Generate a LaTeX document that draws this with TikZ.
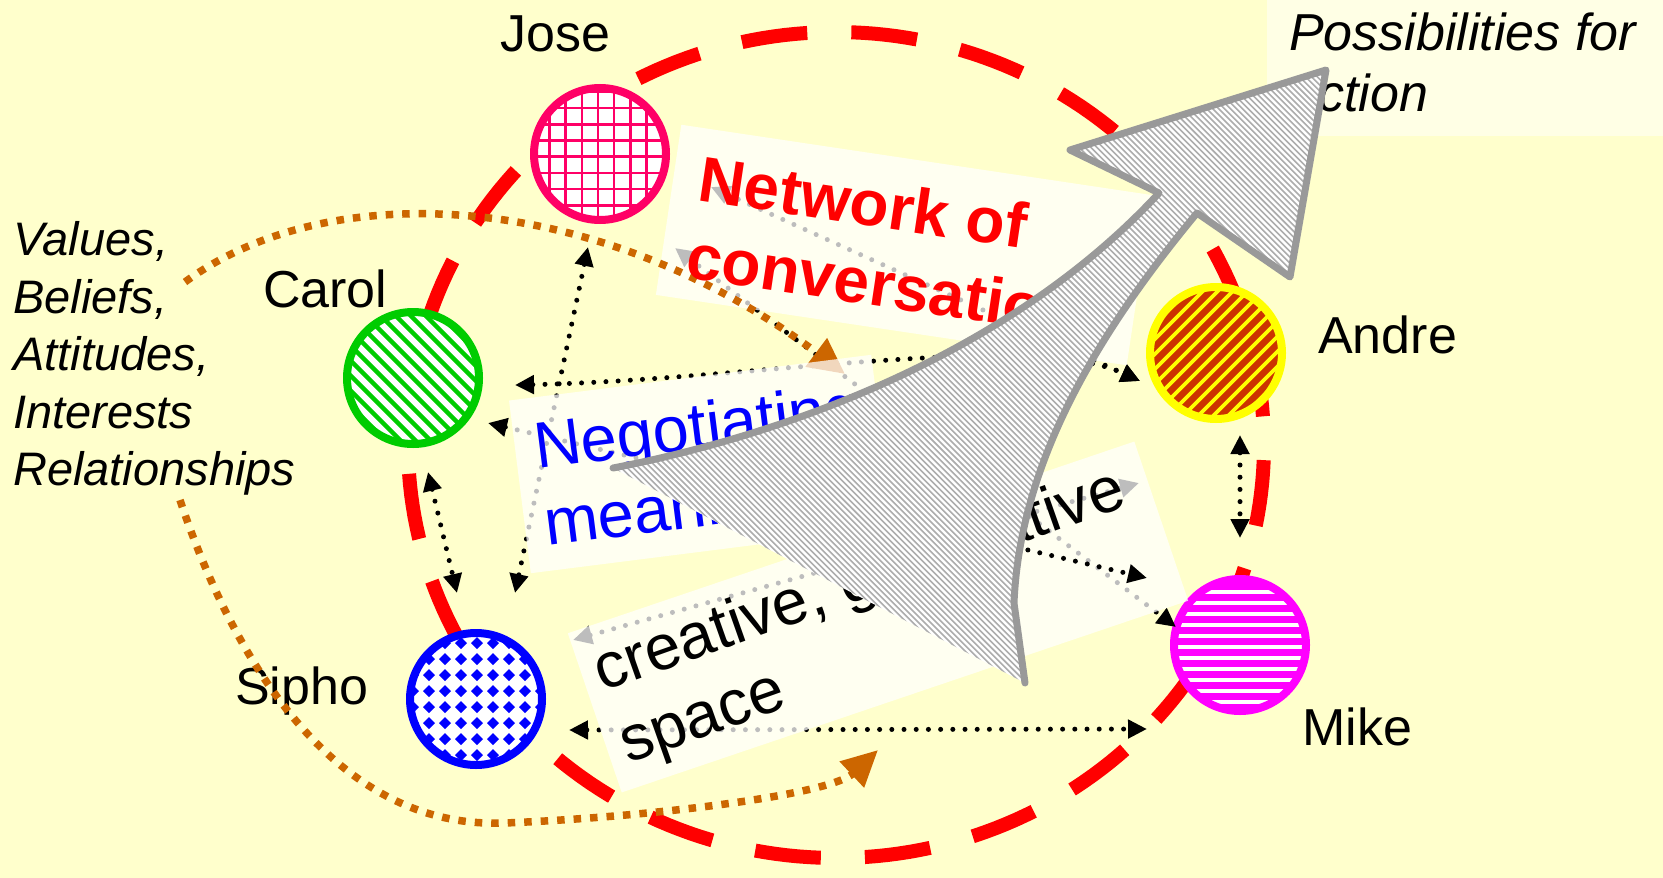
\documentclass[tikz,border=0pt]{standalone}
\usepackage{fontspec}
\setmainfont{Liberation Sans}
\usetikzlibrary{arrows.meta}

\definecolor{paper}{HTML}{FFFFCC}
\definecolor{josecol}{HTML}{FF0066}
\definecolor{carolcol}{HTML}{00CC00}
\definecolor{andrecol}{HTML}{CC3300}
\definecolor{andrering}{HTML}{FFFF00}
\definecolor{mikecol}{HTML}{FF00FF}
\definecolor{siphocol}{HTML}{0000FF}
\definecolor{influencecol}{HTML}{CC6600}
\definecolor{arrowedge}{HTML}{999999}
\definecolor{arrowhatch}{HTML}{ADADAD}
\definecolor{ringred}{HTML}{FF0000}

\begin{document}
\begin{tikzpicture}[x=1pt, y=-1pt,
  person/.style={circle, minimum size=132pt, inner sep=0pt, line width=8pt, fill=white},
  personlabel/.style={font=\fontsize{52}{60}\selectfont, inner sep=0pt, anchor=base west},
  listtext/.style={font=\fontsize{47}{57}\selectfont\itshape, inner sep=0pt, anchor=base west},
  panel/.style={fill=white, fill opacity=0.74, inner sep=0pt},
  boxtext/.style={inner sep=0pt, anchor=base west},
  talk/.style={line width=5pt, dash pattern=on 0pt off 12.2pt, line cap=round,
    >={Triangle[length=19pt,width=18pt]}},
  influence/.style={draw=influencecol, line width=7.5pt, dash pattern=on 7.5pt off 9pt,
    -{Triangle[length=36pt,width=34pt]}},
  ring/.style={draw=ringred, line width=14pt, dash pattern=on 66pt off 44.1pt},
]
\useasboundingbox (0,0) rectangle (1663,878);
\fill[paper] (0,0) rectangle (1663,878);
\fill[white, fill opacity=0.5] (1267,0) rectangle (1663,136);

% dashed boundary of the network
\draw[ring] plot[domain=2.1:362.1, samples=241] ({836+428*cos(\x)}, {445+413*sin(\x)});

% participants
\node[person, draw=josecol, path picture={
  \begin{scope}[shift={(path picture bounding box.center)}]
    \foreach \k in {-5,...,5} {
      \draw[josecol, line width=2.5pt] ({-2+16.2*\k},-80) -- ({-2+16.2*\k},80);
      \draw[josecol, line width=2.5pt] (-80,{2.7+16.2*\k}) -- (80,{2.7+16.2*\k});
    }
  \end{scope}}] (jose) at (600,154) {};
\node[person, draw=carolcol, path picture={
  \begin{scope}[shift={(path picture bounding box.center)}]
    \foreach \k in {-11,...,11}
      \draw[carolcol, line width=4.5pt] ({15*\k-80},-80) -- ({15*\k+80},80);
  \end{scope}}] (carol) at (413,378) {};
\node[person, draw=andrering, fill=andrecol, path picture={
  \begin{scope}[shift={(path picture bounding box.center)}]
    \foreach \k in {-11,...,11}
      \draw[andrering, line width=3.8pt] ({15*\k-80},80) -- ({15*\k+80},-80);
  \end{scope}}] (andre) at (1216,353) {};
\node[person, draw=mikecol, fill=mikecol, path picture={
  \begin{scope}[shift={(path picture bounding box.center)}]
    \foreach \k in {-7,...,7}
      \draw[white, line width=4.7pt] (-80,{2+11*\k}) -- (80,{2+11*\k});
  \end{scope}}] (mike) at (1240,645) {};
\node[person, draw=siphocol, path picture={
  \begin{scope}[shift={(path picture bounding box.center)}]
    \foreach \i in {-5,...,5}
      \foreach \j in {-5,...,5}
        \fill[siphocol] ({16*\i+1},{16*\j-8}) +(-6,0) -- +(0,-6) -- +(6,0) -- +(0,6) -- cycle;
  \end{scope}}] (sipho) at (476,699) {};

% names
\node[personlabel] (jose-label) at (500,51) {Jose};
\node[personlabel] (carol-label) at (263,307) {Carol};
\node[personlabel] (andre-label) at (1318,353) {Andre};
\node[personlabel] (sipho-label) at (235,704) {Sipho};
\node[personlabel] (mike-label) at (1302,745) {Mike};

% what each person brings
\node[listtext] (values) at (13,255) {Values,};
\node[listtext] (beliefs) at (13,313) {Beliefs,};
\node[listtext] (attitudes) at (13,370) {Attitudes,};
\node[listtext] (interests) at (13,428) {Interests};
\node[listtext] (relationships) at (13,485) {Relationships};

\node[personlabel, font=\fontsize{52}{60}\selectfont\itshape] (possibilities) at (1289,50) {Possibilities for};
\node[personlabel, font=\fontsize{52}{60}\selectfont\itshape] (action) at (1289,111) {action};

% ends of the conversation links
\coordinate (js-a) at (588,247);  \coordinate (js-b) at (515,593);
\coordinate (cs-a) at (428,472);  \coordinate (cs-b) at (457,593);
\coordinate (ca-a) at (515,385);  \coordinate (andre-in) at (1140,381);
\coordinate (ja-a) at (711,187);
\coordinate (cm-a) at (488,423);  \coordinate (cm-b) at (1147,578);
\coordinate (jm-a) at (675,248);  \coordinate (jm-b) at (1176,627);
\coordinate (sx-a) at (573,640);  \coordinate (sx-b) at (1139,483);
\coordinate (sm-a) at (569,730);  \coordinate (sm-b) at (1147,729);
\coordinate (am-a) at (1240,435); \coordinate (am-b) at (1240,538);

% conversation links
\draw[talk, <->] (js-a) -- (js-b);
\draw[talk, <->] (cs-a) -- (cs-b);
\draw[talk, <->] (ca-a) .. controls (750,380) and (1030,330) .. (andre-in);
\draw[talk, <->] (ja-a) -- (andre-in);
\draw[talk, <->] (jm-a) -- (jm-b);
\draw[talk, <->] (sx-a) -- (sx-b);
\draw[talk, <->] (sm-a) -- (sm-b);
\draw[talk, <->] (am-a) -- (am-b);

% labelled panels
\node[panel, rotate=-8.5, minimum width=476pt, minimum height=172pt] (netbox) at (904,245) {};
\node[panel, rotate=18.7, minimum width=598pt, minimum height=168pt] (crebox) at (878,617) {};

\draw[talk, <->] (cm-a) -- (cm-b);

% influences flowing in
\coordinate (in-top-start) at (185,282);  \coordinate (in-top-tip) at (845,374);
\coordinate (in-low-start) at (180,500);  \coordinate (in-low-mid) at (505,823);
\coordinate (in-low-tip) at (878,750);
\draw[influence] (in-top-start) .. controls (330,175) and (600,190) .. (in-top-tip);
\draw[influence] (in-low-start) .. controls (230,650) and (330,830) .. (in-low-mid)
  .. controls (650,817) and (830,795) .. (in-low-tip);

\node[panel, rotate=7.2, minimum width=365pt, minimum height=174pt] (negbox) at (701,464) {};

% panel texts
\node[boxtext, text=ringred, font=\fontsize{64}{78}\selectfont\bfseries, rotate=-8.5] (net-1) at (696,200) {Network of};
\node[boxtext, text=ringred, font=\fontsize{64}{78}\selectfont\bfseries, rotate=-8.5] (net-2) at (684,277) {conversation};
\node[boxtext, text=siphocol, font=\fontsize{65}{77}\selectfont, rotate=7.2] (neg-1) at (537,469) {Negotiating};
\node[boxtext, text=siphocol, font=\fontsize{65}{77}\selectfont, rotate=7.2] (neg-2) at (547,546) {meaning};
\node[boxtext, font=\fontsize{64}{76}\selectfont, rotate=19.5] (cre-1) at (602,692) {creative, generative};
\node[boxtext, font=\fontsize{64}{76}\selectfont, rotate=19.5] (cre-2) at (628,764) {space};

% the big rising arrow
\path[fill=white, path picture={
    \foreach \h in {-90,-84.06,...,1290}
      \draw[arrowhatch, line width=1.6pt] (\h,0) -- ++(900,900);
  }]
  (613,468) .. controls (760,440) and (1000,365) .. (1159,193) -- (1070,150) -- (1326,70)
  -- (1290,277) -- (1197,213) .. controls (1100,330) and (1020,460) .. (1014,603)
  -- (1025,683) -- cycle;
\draw[arrowedge, line width=7pt, line join=round, line cap=round]
  (613,468) .. controls (760,440) and (1000,365) .. (1159,193) -- (1070,150) -- (1326,70)
  -- (1290,277) -- (1197,213) .. controls (1100,330) and (1020,460) .. (1014,603)
  -- (1025,683);
\end{tikzpicture}
\end{document}
